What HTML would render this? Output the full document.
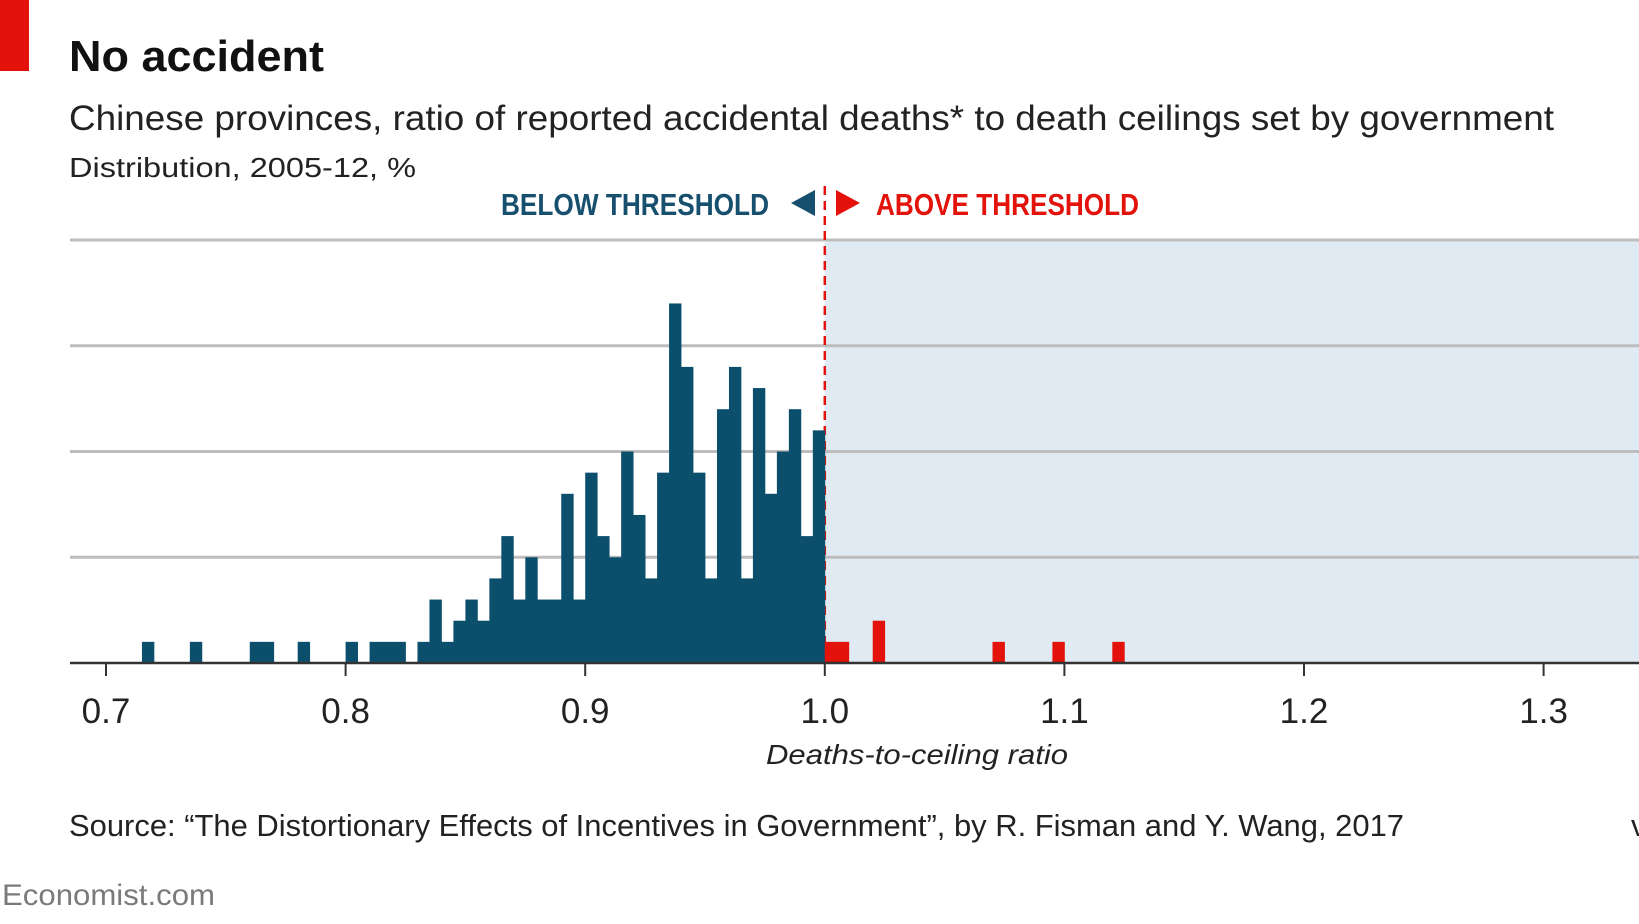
<!DOCTYPE html>
<html><head><meta charset="utf-8"><style>
html,body{margin:0;padding:0;background:#fff;}
svg{display:block;}
</style></head><body>
<svg id="chart" width="1639" height="924" viewBox="0 0 1639 924" xmlns="http://www.w3.org/2000/svg" font-family="Liberation Sans, sans-serif">
<rect x="0" y="0" width="29" height="71" fill="#e3120b"/>
<text x="69" y="71" font-size="44" font-weight="bold" fill="#111" textLength="255" lengthAdjust="spacingAndGlyphs">No accident</text>
<text x="69" y="130" font-size="35" fill="#222" textLength="1485" lengthAdjust="spacingAndGlyphs">Chinese provinces, ratio of reported accidental deaths* to death ceilings set by government</text>
<text x="69" y="177" font-size="28" fill="#222" textLength="347" lengthAdjust="spacingAndGlyphs">Distribution, 2005-12, %</text>
<g id="plot"></g>
<text x="501" y="215" font-size="31" font-weight="bold" fill="#17506e" textLength="268" lengthAdjust="spacingAndGlyphs">BELOW THRESHOLD</text>
<polygon points="815,190 815,216 791,203" fill="#17506e"/>
<polygon points="836,190 836,216 860,203" fill="#e3120b"/>
<text x="876" y="215" font-size="31" font-weight="bold" fill="#e3120b" textLength="263" lengthAdjust="spacingAndGlyphs">ABOVE THRESHOLD</text>
<text x="917" y="764" font-size="28" font-style="italic" fill="#222" text-anchor="middle" textLength="302" lengthAdjust="spacingAndGlyphs">Deaths-to-ceiling ratio</text>
<text x="69" y="836" font-size="31" fill="#222" textLength="1335" lengthAdjust="spacingAndGlyphs">Source: “The Distortionary Effects of Incentives in Government”, by R. Fisman and Y. Wang, 2017</text>
<text x="1631" y="836" font-size="31" fill="#222">v</text>
<text x="2" y="905" font-size="30" fill="#7a7a7a" textLength="213" lengthAdjust="spacingAndGlyphs">Economist.com</text>
</svg>
<script>
const binStarts = [0.715,0.735,0.76,0.765,0.78,0.80,0.81,0.815,0.82,0.83,0.835,0.84,0.845,0.85,0.855,0.86,0.865,0.87,0.875,0.88,0.885,0.89,0.895,0.90,0.905,0.91,0.915,0.92,0.925,0.93,0.935,0.94,0.945,0.95,0.955,0.96,0.965,0.97,0.975,0.98,0.985,0.99,0.995,1.00,1.005,1.02,1.07,1.095,1.12];
const binValues = [1,1,1,1,1,1,1,1,1,1,3,1,2,3,2,4,6,3,5,3,3,8,3,9,6,5,10,7,4,9,17,14,9,4,12,14,4,13,8,10,12,6,11,1,1,2,1,1,1];
const xTicks = [0.7,0.8,0.9,1.0,1.1,1.2,1.3];
const xTickLabels = ["0.7","0.8","0.9","1.0","1.1","1.2","1.3"];
const yGrid = [5,10,15,20];
const threshold = 1.0;
const binWidth = 0.005;

const NS = "http://www.w3.org/2000/svg";
const X0 = 106, PX_PER = 2396, BASE = 663, UNIT = 21.15;
const xs = v => X0 + (v - 0.7) * PX_PER;
const ys = v => BASE - v * UNIT;
const plot = document.getElementById('plot');
function mk(tag, attrs){const e=document.createElementNS(NS,tag);for(const k in attrs)e.setAttribute(k,attrs[k]);plot.appendChild(e);return e;}

const shade = mk('rect',{x:xs(threshold),y:ys(20),width:1639-xs(threshold),height:BASE-ys(20),fill:'#dfeaf2'});


yGrid.forEach(g=>{
  const l = mk('line',{x1:70,x2:1639,y1:ys(g),y2:ys(g),stroke:'#bdbdbd','stroke-width':3});
  
  
});
const dash = mk('line',{x1:xs(threshold),x2:xs(threshold),y1:186,y2:BASE,stroke:'#e3120b','stroke-width':2.5,'stroke-dasharray':'9,6'});


binStarts.forEach((b,i)=>{
  const x = xs(b), w = binWidth*PX_PER;
  const r = mk('rect',{x:x,y:ys(binValues[i]),width:w+0.4,height:BASE-ys(binValues[i]),fill: b>=threshold ? '#e3120b' : '#0c4f6d'});
  
  
});
const axis = mk('line',{x1:70,x2:1639,y1:BASE,y2:BASE,stroke:'#333','stroke-width':2.5});


xTicks.forEach((t,i)=>{
  const tk = mk('line',{x1:xs(t),x2:xs(t),y1:BASE,y2:BASE+13,stroke:'#333','stroke-width':2});
  
  
  const tx = mk('text',{x:xs(t),y:723,'font-size':35,fill:'#222','text-anchor':'middle'});
  tx.textContent = xTickLabels[i];
  
  
});
</script>
</body></html>
